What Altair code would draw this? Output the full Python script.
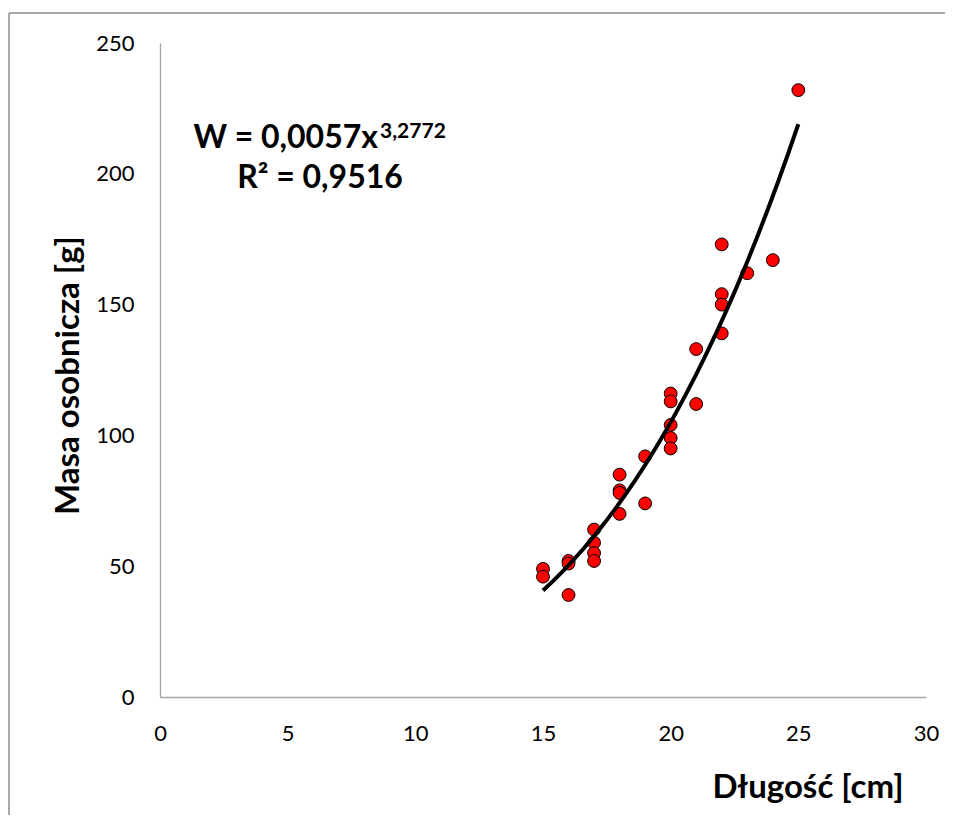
import altair as alt
import pandas as pd

# Data
length_cm = [15, 15, 16, 16, 16, 17, 17, 17, 17, 18, 18, 18, 18, 19, 19,
             20, 20, 20, 20, 20, 21, 21, 22, 22, 22, 22, 23, 24, 25]
mass_g = [49, 46, 52, 51, 39, 64, 59, 55, 52, 85, 79, 78, 70, 92, 74,
          116, 113, 104, 99, 95, 133, 112, 173, 154, 150, 139, 162, 167, 232]

x_ticks = [0, 5, 10, 15, 20, 25, 30]
y_ticks = [0, 50, 100, 150, 200, 250]

x_title = "Długość [cm]"
y_title = "Masa osobnicza [g]"
eq_main = "W = 0,0057x"
eq_exp = "3,2772"
eq_r2 = "R² = 0,9516"

df = pd.DataFrame({"length": length_cm, "mass": mass_g})

FONT = "Lato"
W, H = 766, 654

x_enc = alt.X(
    "length:Q",
    scale=alt.Scale(domain=[0, 30], nice=False, zero=False),
    axis=alt.Axis(
        values=x_ticks, title=x_title, grid=False, ticks=False,
        labelFlush=False, labelOverlap=False,
        domainColor="#a6a6a6", domainWidth=1.3,
        labelFont=FONT, labelFontSize=22, labelColor="#000000", labelPadding=26,
        titleFont=FONT, titleFontSize=33, titleFontWeight="bold", titleColor="#000000",
        titleAnchor="end", titleAlign="right", titleBaseline="alphabetic",
        titleX=743, titleY=100,
    ),
)
y_enc = alt.Y(
    "mass:Q",
    scale=alt.Scale(domain=[0, 250], nice=False, zero=False),
    axis=alt.Axis(
        values=y_ticks, title=y_title, grid=False, ticks=False,
        labelFlush=False, labelOverlap=False,
        domainColor="#a6a6a6", domainWidth=1.3,
        labelFont=FONT, labelFontSize=22, labelColor="#000000", labelPadding=26,
        titleFont=FONT, titleFontSize=33, titleFontWeight="bold", titleColor="#000000",
        titleAngle=270, titleAlign="center", titleBaseline="alphabetic",
        titleX=-82, titleY=332,
    ),
)

base = alt.Chart(df)

points = base.mark_circle(
    size=165, color="#ff0000", opacity=1, stroke="#000000", strokeWidth=1
).encode(x=x_enc, y=y_enc)

trend = base.transform_regression(
    "length", "mass", method="pow", extent=[15, 25]
).mark_line(color="#000000", strokeWidth=4).encode(x="length:Q", y="mass:Q")

one = pd.DataFrame({"a": [0]})

frame_top = alt.Chart(one).mark_rule(color="#8c8c8c", strokeWidth=1.5).encode(
    x=alt.value(-151), x2=alt.value(785), y=alt.value(-30)
)
frame_left = alt.Chart(one).mark_rule(color="#8c8c8c", strokeWidth=1.5).encode(
    x=alt.value(-151), y=alt.value(-30), y2=alt.value(772)
)

t_main = alt.Chart(one).mark_text(
    font=FONT, fontSize=32, fontWeight="bold", color="#000000",
    align="right", baseline="alphabetic"
).encode(x=alt.value(218), y=alt.value(105), text=alt.value(eq_main))

t_exp = alt.Chart(one).mark_text(
    font=FONT, fontSize=21, fontWeight="bold", color="#000000",
    align="left", baseline="alphabetic"
).encode(x=alt.value(220), y=alt.value(95), text=alt.value(eq_exp))

t_r2 = alt.Chart(one).mark_text(
    font=FONT, fontSize=32, fontWeight="bold", color="#000000",
    align="center", baseline="alphabetic"
).encode(x=alt.value(160), y=alt.value(145), text=alt.value(eq_r2))

chart = alt.layer(frame_top, frame_left, points, trend, t_main, t_exp, t_r2).properties(
    width=W, height=H,
    autosize=alt.AutoSizeParams(type="none"),
    padding={"left": 152, "top": 35, "right": 19, "bottom": 118},
).configure(background="#ffffff").configure_view(strokeWidth=0)

chart.save("out.html", embed_options={"renderer": "svg", "actions": False})
